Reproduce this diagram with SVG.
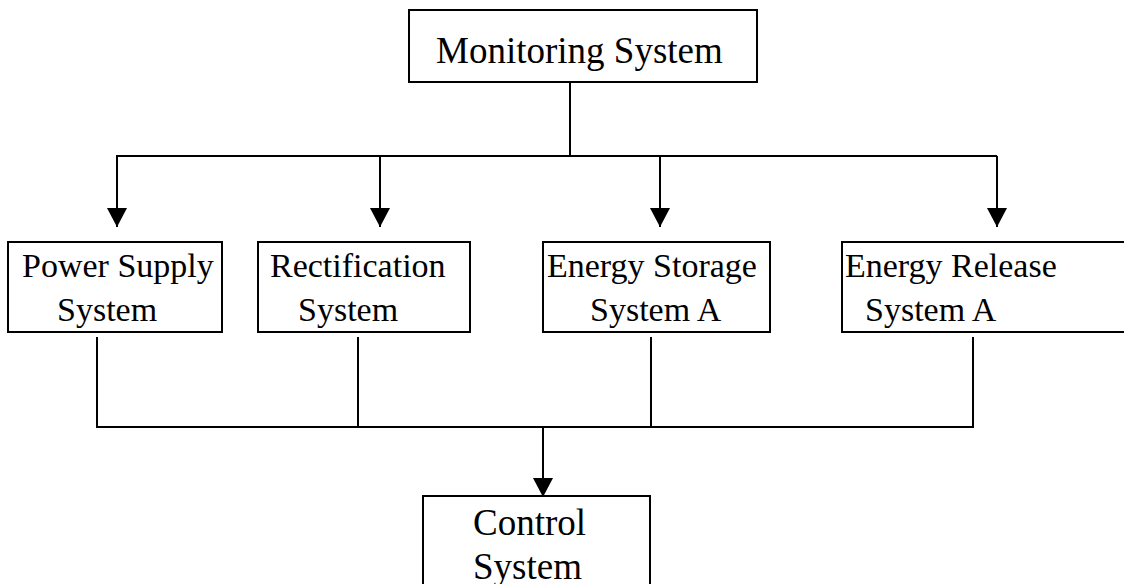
<svg xmlns="http://www.w3.org/2000/svg" width="1124" height="584" viewBox="0 0 1124 584">
<style>
.box{fill:#fff;stroke:#000;stroke-width:2}
.ln{fill:none;stroke:#000;stroke-width:2}
.t{font-family:"Liberation Serif","Times New Roman",serif;font-size:34px;fill:#000}
</style>
<defs>
<marker id="ah" markerUnits="userSpaceOnUse" markerWidth="20" markerHeight="20" viewBox="0 0 20 20" refX="19" refY="10" orient="auto">
<path d="M0,0 L19,10 L0,20 Z" fill="#000"/>
</marker>
</defs>
<rect width="1124" height="584" fill="#fff"/>
<g id="connectors">
<path class="ln" d="M570,82 V156"/>
<path class="ln" d="M116,156 H997"/>
<path class="ln" d="M117,156 V227" marker-end="url(#ah)"/>
<path class="ln" d="M380,156 V227" marker-end="url(#ah)"/>
<path class="ln" d="M660,156 V227" marker-end="url(#ah)"/>
<path class="ln" d="M997,156 V227" marker-end="url(#ah)"/>
<path class="ln" d="M97,337 V427"/>
<path class="ln" d="M358,337 V427"/>
<path class="ln" d="M651,337 V427"/>
<path class="ln" d="M973,337 V427"/>
<path class="ln" d="M96,427 H974"/>
<path class="ln" d="M543,427 V497" marker-end="url(#ah)"/>
</g>
<g id="monitoring">
<rect class="box" x="409" y="10" width="348" height="72"/>
<text class="t" x="436" y="63" style="font-size:37px">Monitoring System</text>
</g>
<g id="power">
<rect class="box" x="8" y="242" width="214" height="90"/>
<text class="t" x="22" y="277">Power Supply</text>
<text class="t" x="57" y="321">System</text>
</g>
<g id="rectification">
<rect class="box" x="258" y="242" width="212" height="90"/>
<text class="t" x="270" y="277">Rectification</text>
<text class="t" x="298" y="321">System</text>
</g>
<g id="storage">
<rect class="box" x="543" y="242" width="227" height="90"/>
<text class="t" x="547" y="277">Energy Storage</text>
<text class="t" x="590" y="321">System A</text>
</g>
<g id="release">
<rect class="box" x="842" y="242" width="290" height="90"/>
<text class="t" x="845" y="277">Energy Release</text>
<text class="t" x="865" y="321">System A</text>
</g>
<g id="control">
<rect class="box" x="423" y="496" width="227" height="100"/>
<text class="t" x="473" y="535" style="font-size:37px">Control</text>
<text class="t" x="473" y="579" style="font-size:37px">System</text>
</g>
</svg>
